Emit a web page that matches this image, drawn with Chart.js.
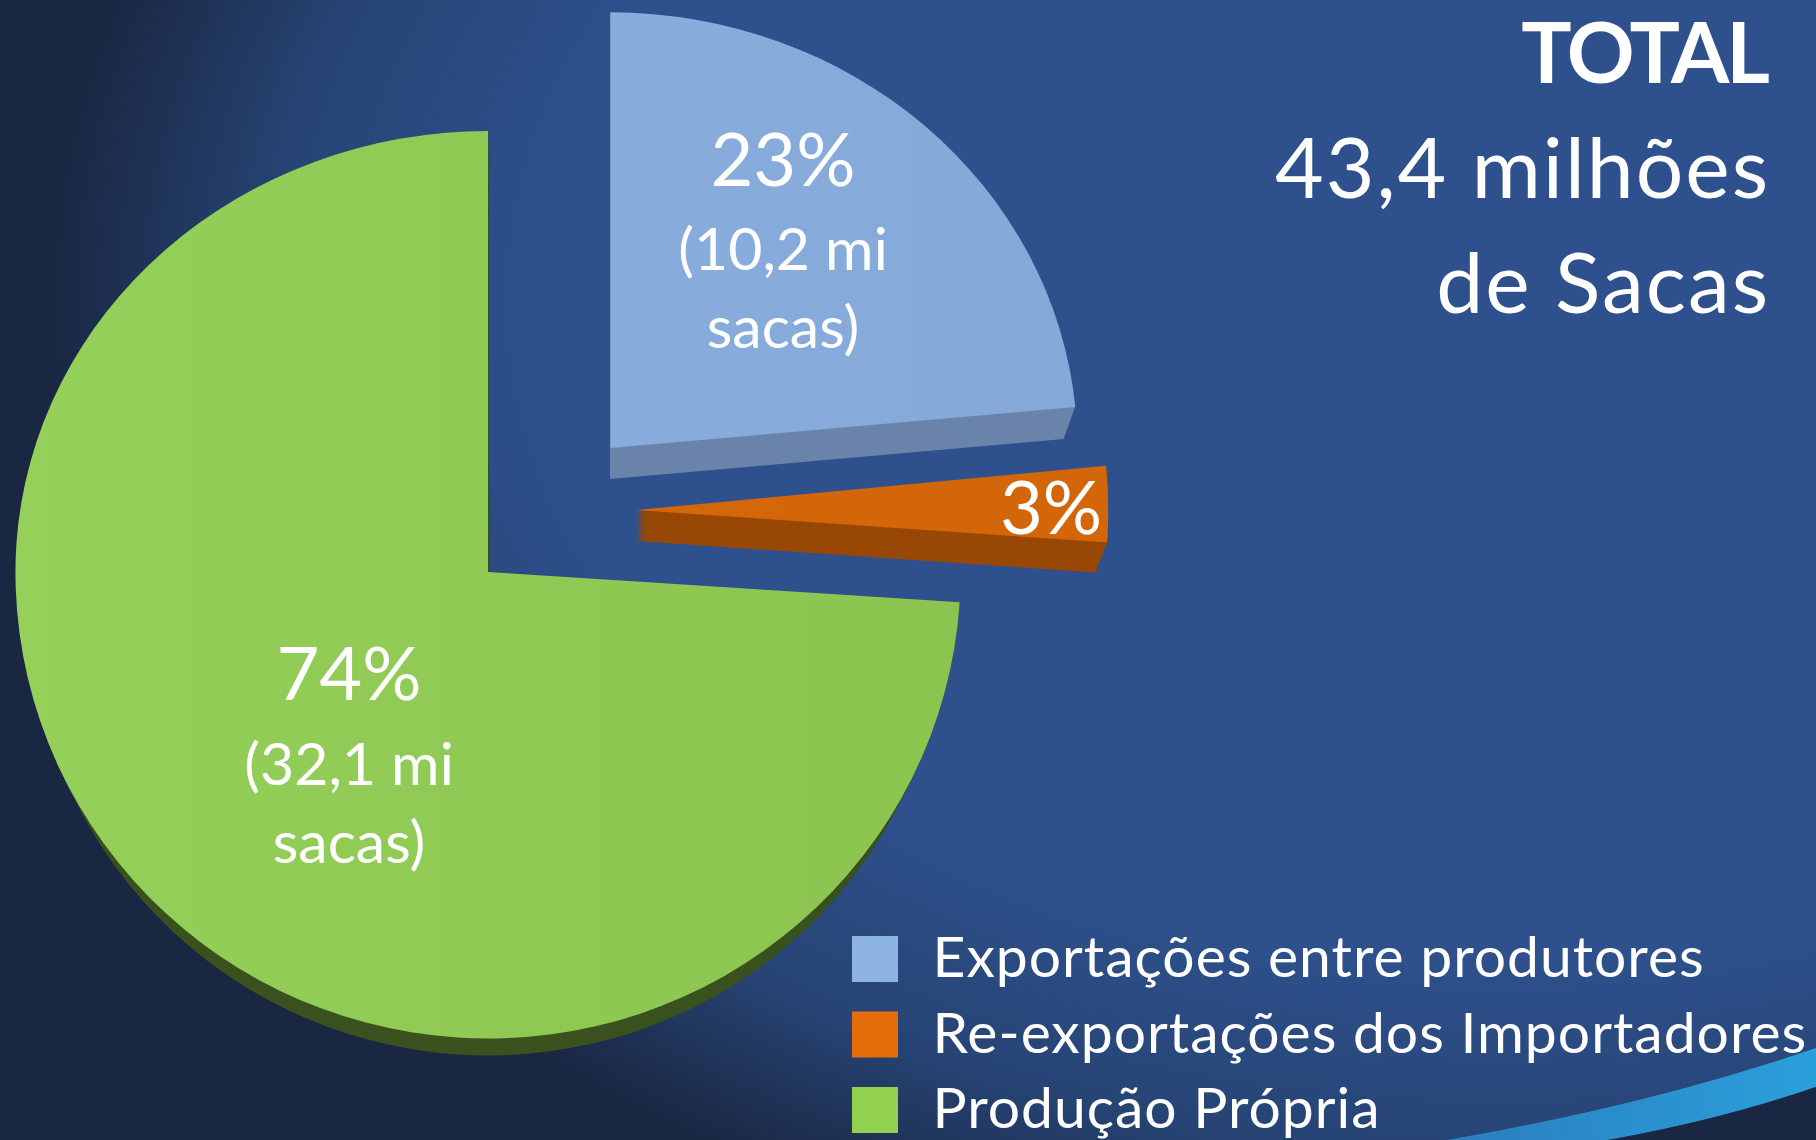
<!DOCTYPE html>
<html><head><meta charset="utf-8">
<style>html,body{margin:0;padding:0;background:#1a2742;overflow:hidden}canvas{display:block}</style>
<script src="https://cdn.jsdelivr.net/npm/chart.js@4/dist/chart.umd.js"></script>
</head><body>
<div style="width:1816px;height:1140px;position:relative"><canvas id="c" width="1816" height="1140"></canvas></div>
<script>
const categories = ['Exportações entre produtores','Re-exportações dos Importadores','Produção Própria'];
const milhoesDeSacas = [10.2, 1.1, 32.1];
const percentLabels = ['23%','3%','74%'];
const detailLabels = [['(10,2 mi','sacas)'],[],['(32,1 mi','sacas)']];
const titleLines = ['TOTAL','43,4 milhões','de Sacas'];

const legendColors = ['#8EB4E3','#E46C0A','#92D050'];
const topColorsL = ['#8DB2E2','#D6680B','#94D05A'];
const topColorsR = ['#84A9D8','#D4660A','#8AC24E'];
const sideColors = ['#6A84AB','#984805','#3B5320'];
const FONT = 'Lato, Carlito, sans-serif';

const labelPos = [[783,186],[1051,534],[349,700]];
const detailY = [[270,348],[],[785,863]];

const pie3d = {
  id:'pie3d',
  beforeDraw(chart){
    const ctx = chart.ctx; ctx.save();
    ctx.fillStyle='#1a2742'; ctx.fillRect(0,0,1816,1140);
    ctx.save();
    ctx.translate(1500,300); ctx.scale(1450,1006);
    const g = ctx.createRadialGradient(0,0,0,0,0,1);
    g.addColorStop(0,'#2E518D'); g.addColorStop(0.65,'#2E518D');
    g.addColorStop(0.85,'#264373'); g.addColorStop(1,'#1A2742');
    ctx.fillStyle=g; ctx.fillRect(-2,-2,4,4);
    ctx.restore();
    // swoosh
    ctx.beginPath();
    ctx.moveTo(1447,1140); ctx.quadraticCurveTo(1650,1105,1816,1048);
    ctx.lineTo(1816,1087); ctx.quadraticCurveTo(1720,1120,1608,1140); ctx.closePath();
    const sw = ctx.createLinearGradient(1447,0,1816,0);
    sw.addColorStop(0,'#2B7DBE'); sw.addColorStop(1,'#2AA0DA');
    ctx.fillStyle=sw; ctx.fill();
    ctx.beginPath();
    ctx.moveTo(1608,1140); ctx.quadraticCurveTo(1720,1120,1816,1087);
    ctx.lineTo(1816,1140); ctx.closePath(); ctx.fillStyle='#1A2742'; ctx.fill();
    ctx.restore();
    ctx.letterSpacing='1px';
  },
  beforeDatasetsDraw(chart){
    const ctx = chart.ctx, arcs = chart.getDatasetMeta(0).data;
    const upper=0.933, lower=0.987, depth=31;
    const growX=[1,1.01,1.012], growY=[1,1.08,1.012], shrink=[0.025,0.025,0.03];
    const drawArc=(el,col,i,dy,k)=>{
      const half=(el.startAngle+el.endAngle)/2;
      const disp=(el.options.offset||0)/4;
      const ax=el.x+Math.cos(half)*disp, ay=Math.round(el.y+Math.sin(half)*disp);
      [[upper,-2000,2000+ay+dy],[lower,ay+dy,2000]].forEach(([s,y0,h])=>{
        ctx.save();
        ctx.beginPath(); ctx.rect(-100,y0,2100,h); ctx.clip();
        ctx.fillStyle=col;
        const t=new DOMMatrix().translate(ax,ay+dy).scale(growX[i]*k,growY[i]*s*k);
        const p=new Path2D(); p.moveTo(0,0); p.arc(0,0,el.outerRadius,el.startAngle,el.endAngle); p.closePath();
        const q=new Path2D(); q.addPath(p,t);
        ctx.fill(q);
        ctx.restore();
      });
    };
    arcs.forEach((el,i)=>{
      for(let d=depth;d>=1;d--) drawArc(el,sideColors[i],i,d,1-shrink[i]*d/depth);
      const g=ctx.createLinearGradient(0,0,1100,0);
      g.addColorStop(0,topColorsL[i]); g.addColorStop(1,topColorsR[i]);
      drawArc(el,g,i,0,1);
    });
    return false;
  },
  afterLayout(chart){
    const l=chart.legend;
    l.left=833.5;l.top=912;l.right=1816;l.bottom=1400;
  },
  afterDraw(chart){
    const ctx=chart.ctx; ctx.save();
    ctx.fillStyle='#fff'; ctx.textBaseline='alphabetic'; ctx.textAlign='center';
    ctx.letterSpacing='0px';
    percentLabels.forEach((t,i)=>{
      ctx.font='400 74px '+FONT;
      ctx.fillText(t,labelPos[i][0],labelPos[i][1]);
      ctx.font='400 59px '+FONT;
      detailLabels[i].forEach((s,k)=>ctx.fillText(s,labelPos[i][0],detailY[i][k]));
    });
    ctx.textAlign='right';
    ctx.letterSpacing='-3px';
    ctx.font='700 84px '+FONT; ctx.fillText(titleLines[0],1767,83);
    ctx.letterSpacing='2px';
    ctx.font='400 84px '+FONT;
    ctx.fillText(titleLines[1],1770,198);
    ctx.fillText(titleLines[2],1770,313);
    ctx.restore();
    ctx.letterSpacing='0px';
  }
};

const gctx = document.getElementById('c').getContext('2d');
const BOXW=52;
new Chart(gctx,{
  type:'pie',
  data:{labels:categories,datasets:[{data:milhoesDeSacas,backgroundColor:legendColors,borderWidth:0,
    radius:467,offset:[341,334,356]}]},
  options:{
    responsive:false,animation:false,
    devicePixelRatio:1,
    layout:{padding:{left:0,top:0,right:710,bottom:118}},
    plugins:{
      tooltip:{enabled:false},
      legend:{display:true,position:'chartArea',align:'start',
        labels:{color:'#fff',boxWidth:BOXW,boxHeight:46,padding:18.5,font:{family:FONT,size:57,weight:'400'},
          generateLabels(chart){
            return categories.map((t,i)=>{
              const g=gctx.createLinearGradient(852,0,852+BOXW,0);
              const f=46/BOXW;
              g.addColorStop(0,legendColors[i]);g.addColorStop(f,legendColors[i]);
              g.addColorStop(f,'rgba(0,0,0,0)');g.addColorStop(1,'rgba(0,0,0,0)');
              return {text:t,fillStyle:g,strokeStyle:'rgba(0,0,0,0)',lineWidth:0,fontColor:'#fff',hidden:false,index:i};
            });
          }}}
    }
  },
  plugins:[pie3d]
});
</script>
</body></html>
